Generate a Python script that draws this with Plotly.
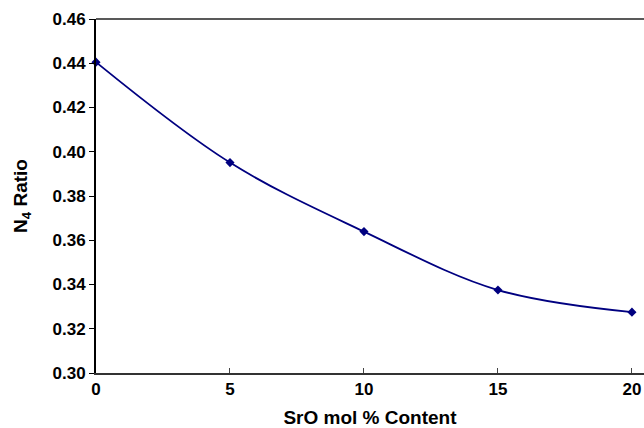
import plotly.graph_objects as go

sro_content = [0, 5, 10, 15, 20]
n4_ratio = [0.4405, 0.3951, 0.3639, 0.3375, 0.3275]
x_ticks = [0, 5, 10, 15, 20]
y_ticks = [0.30, 0.32, 0.34, 0.36, 0.38, 0.40, 0.42, 0.44, 0.46]

fig = go.Figure()
fig.add_trace(go.Scatter(
    x=sro_content, y=n4_ratio, mode="lines+markers",
    line=dict(color="#000080", width=1.8, shape="spline", smoothing=1.0),
    marker=dict(symbol="diamond", size=7, color="#000080"),
    cliponaxis=False, showlegend=False,
))

font_family = "Liberation Sans, Arial, sans-serif"
fig.update_layout(
    width=644, height=428,
    margin=dict(l=96, r=0, t=19, b=55),
    paper_bgcolor="white", plot_bgcolor="white",
    font=dict(family=font_family, color="black", size=17),
    xaxis=dict(
        range=[0, 20.45], tickvals=x_ticks, ticktext=[f"<b>{v}</b>" for v in x_ticks],
        ticks="inside", ticklen=5, tickcolor="#444", tickwidth=1,
        showline=True, linecolor="#333", linewidth=1.5, mirror=False,
        showgrid=False, zeroline=False,
        tickfont=dict(size=17, family=font_family),
        title=dict(text="<b>SrO mol % Content</b>", font=dict(size=19, family=font_family), standoff=15),
    ),
    yaxis=dict(
        range=[0.30, 0.46], tickvals=y_ticks, ticktext=[f"<b>{v:.2f}</b>" for v in y_ticks],
        ticks="outside", ticklen=5, tickcolor="black", tickwidth=1,
        showline=True, linecolor="black", linewidth=2,
        showgrid=False, zeroline=False,
        tickfont=dict(size=17, family=font_family),
        title=dict(text="<b>N<sub>4</sub> Ratio</b>", font=dict(size=19, family=font_family), standoff=20),
    ),
    shapes=[dict(type="line", xref="paper", yref="paper", x0=0, x1=1, y0=1, y1=1,
                 line=dict(color="#222", width=1.5))],
)

fig.write_html("out.html", config={"displayModeBar": False},
               post_script="document.body.style.margin='0';document.body.style.overflow='hidden';")
